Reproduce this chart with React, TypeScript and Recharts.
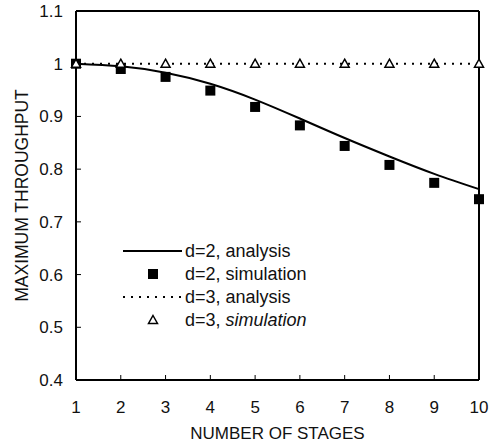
import { ComposedChart, Line, XAxis, YAxis, Legend } from 'recharts'

const stages = [1, 2, 3, 4, 5, 6, 7, 8, 9, 10]
const analysisD2 = [1.0, 0.995, 0.983, 0.962, 0.932, 0.896, 0.859, 0.824, 0.791, 0.762]
const simulationD2 = [1.0, 0.99, 0.975, 0.949, 0.918, 0.883, 0.844, 0.808, 0.774, 0.743]
const analysisD3 = [1.0, 1.0, 1.0, 1.0, 1.0, 1.0, 1.0, 1.0, 1.0, 1.0]
const simulationD3 = [1.0, 1.0, 1.0, 1.0, 1.0, 1.0, 1.0, 1.0, 1.0, 1.0]
const yTicks = [0.4, 0.5, 0.6, 0.7, 0.8, 0.9, 1, 1.1]

const data = stages.map((s, i) => ({
  stage: s,
  a2: analysisD2[i],
  s2: simulationD2[i],
  a3: analysisD3[i],
  s3: simulationD3[i],
}))

const font = 'Liberation Sans, Arial, sans-serif'

const Square = (props: any) => {
  const { cx, cy } = props
  if (cx == null || cy == null) return null
  return <rect key={`sq-${cx}`} x={cx - 5} y={cy - 5} width={10} height={10} fill="#000" />
}

const Triangle = (props: any) => {
  const { cx, cy } = props
  if (cx == null || cy == null) return null
  return (
    <path
      key={`tr-${cx}`}
      d={`M${cx},${cy - 4.5} L${cx + 4.5},${cy + 3.5} L${cx - 4.5},${cy + 3.5} Z`}
      fill="#fff"
      stroke="#000"
      strokeWidth={1.5}
    />
  )
}

function LegendBox() {
  const row = { display: 'flex', alignItems: 'center', height: 23 }
  return (
    <div style={{ fontFamily: font, fontSize: 18, color: '#111', lineHeight: 1 }}>
      <div style={row}>
        <svg width={64} height={10}>
          <line x1={2} y1={5} x2={61} y2={5} stroke="#000" strokeWidth={2} />
        </svg>
        <span>d=2, analysis</span>
      </div>
      <div style={row}>
        <svg width={64} height={12}>
          <rect x={27} y={1} width={10} height={10} fill="#000" />
        </svg>
        <span>d=2, simulation</span>
      </div>
      <div style={row}>
        <svg width={64} height={10}>
          <line x1={2} y1={5} x2={61} y2={5} stroke="#000" strokeWidth={2} strokeDasharray="2 6" />
        </svg>
        <span>d=3, analysis</span>
      </div>
      <div style={row}>
        <svg width={64} height={12}>
          <path d="M32,1.5 L36.5,9.5 L27.5,9.5 Z" fill="#fff" stroke="#000" strokeWidth={1.5} />
        </svg>
        <span>
          d=3, <i>simulation</i>
        </span>
      </div>
    </div>
  )
}

export default function App() {
  return (
    <div style={{ position: 'absolute', left: 0, top: 0, background: '#fff' }}>
      <ComposedChart
        width={494}
        height={446}
        data={data}
        margin={{ top: 10, right: 14, bottom: 0, left: 0 }}
      >
        <XAxis
          xAxisId="top"
          orientation="top"
          dataKey="stage"
          type="number"
          domain={[1, 10]}
          tick={false}
          tickLine={false}
          height={1}
          axisLine={{ stroke: '#000', strokeWidth: 2 }}
        />
        <YAxis
          yAxisId="right"
          orientation="right"
          domain={[0.4, 1.1]}
          tick={false}
          tickLine={false}
          width={1}
          axisLine={{ stroke: '#000', strokeWidth: 2 }}
        />
        <XAxis
          dataKey="stage"
          type="number"
          domain={[1, 10]}
          ticks={stages}
          interval={0}
          height={66}
          tickSize={-5}
          tickMargin={26}
          axisLine={{ stroke: '#000', strokeWidth: 2 }}
          tickLine={{ stroke: '#000' }}
          tick={{ fontFamily: font, fontSize: 17, fill: '#111' }}
          label={{
            value: 'NUMBER OF STAGES',
            position: 'insideBottom',
            offset: 7,
            style: { fontFamily: font, fontSize: 17, fill: '#111' },
          }}
        />
        <YAxis
          domain={[0.4, 1.1]}
          ticks={yTicks}
          interval={0}
          width={76}
          tickSize={-5}
          tickMargin={18}
          axisLine={{ stroke: '#000', strokeWidth: 2 }}
          tickLine={{ stroke: '#000' }}
          tickFormatter={(v: number) => String(Math.round(v * 10) / 10)}
          tick={{ fontFamily: font, fontSize: 17, fill: '#111' }}
          label={{
            value: 'MAXIMUM THROUGHPUT',
            angle: -90,
            position: 'insideLeft',
            offset: 22,
            style: { fontFamily: font, fontSize: 17.5, fill: '#111', textAnchor: 'middle' },
          }}
        />
        <Legend
          layout="vertical"
          align="center"
          verticalAlign="middle"
          wrapperStyle={{ left: 121, top: 239, width: 240 }}
          content={() => <LegendBox />}
        />
        <Line
          type="natural"
          dataKey="a3"
          stroke="#000"
          strokeWidth={2}
          strokeDasharray="2 6"
          dot={false}
          isAnimationActive={false}
        />
        <Line
          type="natural"
          dataKey="a2"
          stroke="#000"
          strokeWidth={2}
          dot={false}
          isAnimationActive={false}
        />
        <Line
          dataKey="s2"
          stroke="none"
          dot={Square}
          activeDot={false}
          isAnimationActive={false}
        />
        <Line
          dataKey="s3"
          stroke="none"
          dot={Triangle}
          activeDot={false}
          isAnimationActive={false}
        />
      </ComposedChart>
    </div>
  )
}
